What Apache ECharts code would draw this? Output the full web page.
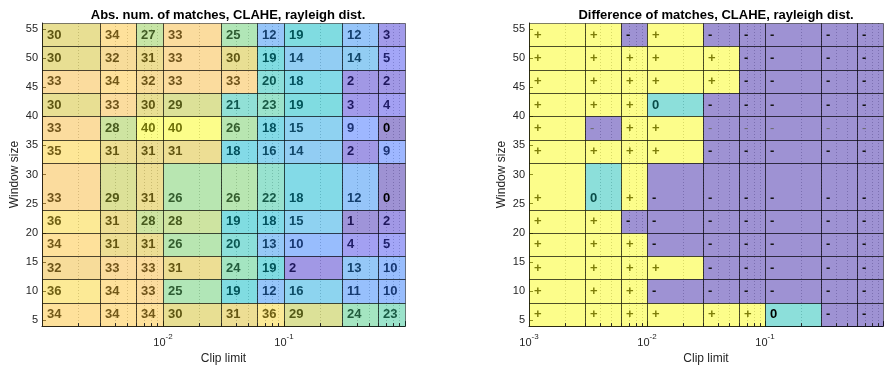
<!DOCTYPE html>
<html>
<head>
<meta charset="utf-8">
<script src="https://cdn.jsdelivr.net/npm/echarts@6/dist/echarts.min.js"></script>
<style>
  html, body { margin: 0; padding: 0; background: #fff; }
  #chart { width: 886px; height: 370px; }
</style>
</head>
<body>
<div id="chart"></div>
<script>
// Cell edges along the clip-limit axis (log scale)
const clipEdges = [0.001, 0.003, 0.006, 0.01, 0.03, 0.06, 0.1, 0.3, 0.6, 1];
// Cell edges along the window-size axis, top row first
const winEdges = [56, 52, 48, 44, 40, 36, 32, 24, 20, 16, 12, 8, 4];
// Window-size position of each row's value label
const winLabelPos = [54, 50, 46, 42, 38, 34, 26, 22, 18, 14, 10, 6];

// Absolute number of matches, one row per window size (top to bottom)
const absMatches = [
  [30, 34, 27, 33, 25, 12, 19, 12, 3],
  [30, 32, 31, 33, 30, 19, 14, 14, 5],
  [33, 34, 32, 33, 33, 20, 18, 2, 2],
  [30, 33, 30, 29, 21, 23, 19, 3, 4],
  [33, 28, 40, 40, 26, 18, 15, 9, 0],
  [35, 31, 31, 31, 18, 16, 14, 2, 9],
  [33, 29, 31, 26, 26, 22, 18, 12, 0],
  [36, 31, 28, 28, 19, 18, 15, 1, 2],
  [34, 31, 31, 26, 20, 13, 10, 4, 5],
  [32, 33, 33, 31, 24, 19, 2, 13, 10],
  [36, 34, 33, 25, 19, 12, 16, 11, 10],
  [34, 34, 34, 30, 31, 36, 29, 24, 23]
];

// Sign of the difference of matches (+1, 0, -1)
const diffSigns = [
  [1, 1, -1, 1, -1, -1, -1, -1, -1],
  [1, 1, 1, 1, 1, -1, -1, -1, -1],
  [1, 1, 1, 1, 1, -1, -1, -1, -1],
  [1, 1, 1, 0, -1, -1, -1, -1, -1],
  [1, -1, 1, 1, -1, -1, -1, -1, -1],
  [1, 1, 1, 1, -1, -1, -1, -1, -1],
  [1, 0, 1, -1, -1, -1, -1, -1, -1],
  [1, 1, -1, -1, -1, -1, -1, -1, -1],
  [1, 1, 1, -1, -1, -1, -1, -1, -1],
  [1, 1, 1, 1, -1, -1, -1, -1, -1],
  [1, 1, 1, -1, -1, -1, -1, -1, -1],
  [1, 1, 1, 1, 1, 1, 0, -1, -1]
];

const winTicks = [5, 10, 15, 20, 25, 30, 35, 40, 45, 50, 55];
const leftClipLabels = [-2, -1];       // exponents labelled on the left panel
const rightClipLabels = [-3, -2, -1];  // exponents labelled on the right panel

const titles = ['Abs. num. of matches, CLAHE, rayleigh dist.', 'Difference of matches, CLAHE, rayleigh dist.'];

// parula colormap, 64 entries
const parula = [
[0.2422,0.1504,0.6603],[0.2504,0.1650,0.7076],[0.2578,0.1818,0.7511],[0.2647,0.1978,0.7952],
[0.2706,0.2147,0.8364],[0.2751,0.2342,0.8710],[0.2783,0.2559,0.8991],[0.2803,0.2782,0.9221],
[0.2813,0.3006,0.9414],[0.2810,0.3228,0.9579],[0.2795,0.3447,0.9717],[0.2760,0.3667,0.9829],
[0.2699,0.3892,0.9906],[0.2602,0.4123,0.9952],[0.2440,0.4358,0.9988],[0.2206,0.4603,0.9973],
[0.1963,0.4847,0.9892],[0.1834,0.5074,0.9798],[0.1786,0.5289,0.9682],[0.1764,0.5499,0.9520],
[0.1687,0.5703,0.9359],[0.1540,0.5902,0.9218],[0.1460,0.6091,0.9079],[0.1380,0.6276,0.8973],
[0.1248,0.6459,0.8883],[0.1113,0.6635,0.8763],[0.0952,0.6798,0.8598],[0.0689,0.6948,0.8394],
[0.0297,0.7082,0.8163],[0.0036,0.7203,0.7917],[0.0067,0.7312,0.7660],[0.0433,0.7411,0.7394],
[0.0964,0.7500,0.7120],[0.1408,0.7584,0.6842],[0.1717,0.7670,0.6554],[0.1938,0.7758,0.6251],
[0.2161,0.7843,0.5923],[0.2470,0.7918,0.5567],[0.2906,0.7973,0.5188],[0.3406,0.8008,0.4789],
[0.3909,0.8029,0.4354],[0.4456,0.8024,0.3909],[0.5044,0.7993,0.3480],[0.5616,0.7942,0.3045],
[0.6174,0.7876,0.2612],[0.6720,0.7793,0.2227],[0.7242,0.7698,0.1910],[0.7738,0.7598,0.1646],
[0.8203,0.7498,0.1535],[0.8634,0.7406,0.1596],[0.9035,0.7330,0.1774],[0.9393,0.7288,0.2100],
[0.9728,0.7298,0.2394],[0.9956,0.7434,0.2371],[0.9970,0.7659,0.2199],[0.9952,0.7893,0.2028],
[0.9892,0.8136,0.1885],[0.9786,0.8386,0.1766],[0.9676,0.8639,0.1643],[0.9610,0.8890,0.1537],
[0.9597,0.9135,0.1423],[0.9628,0.9373,0.1265],[0.9691,0.9606,0.1064],[0.9769,0.9839,0.0805]
];

function cmap(v, lo, hi) {
  let i = Math.floor((v - lo) / (hi - lo) * parula.length);
  i = Math.max(0, Math.min(parula.length - 1, i));
  return parula[i];
}
function rgba(c, a, k) {
  k = k == null ? 1 : k;
  return 'rgba(' + c.map(x => Math.round(x * 255 * k)).join(',') + ',' + a + ')';
}

const FONT = '"Liberation Sans", Arial, Helvetica, sans-serif';
const AX = '#262626';

// Build cell records: [x0, x1, yLow, yHigh, yLabel, value]
function buildCells(values) {
  const out = [];
  values.forEach((row, r) => {
    row.forEach((v, c) => {
      out.push([clipEdges[c], clipEdges[c + 1], winEdges[r + 1], winEdges[r], winLabelPos[r], v]);
    });
  });
  return out;
}

const leftCells = buildCells(absMatches);
const rightCells = buildCells(diffSigns);

function leftStyle(v) {
  const base = cmap(v, 0, 40);
  return {
    fill: rgba(base, 0.5),
    text: String(v),
    color: v === 0 ? '#000' : rgba(base, 1, 0.45),
    weight: 'bold'
  };
}
function rightStyle(v, r, c) {
  const base = cmap(v, -1, 1);
  let text = v > 0 ? '+' : (v < 0 ? '-' : '0');
  let color = v > 0 ? rgba(base, 1, 0.5) : (v < 0 ? '#141414' : rgba(base, 1, 0.4));
  let weight = 'bold';
  if (v === 0 && r === 11) color = '#000';
  if (v < 0 && r === 4) { color = '#6a6a6a'; weight = 'normal'; }
  return { fill: rgba(base, 0.5), text, color, weight };
}

function makeCellRenderer(cells, styler, cols) {
  return function (params, api) {
    const d = cells[params.dataIndex];
    const p0 = api.coord([d[0], d[3]]);
    const p1 = api.coord([d[1], d[2]]);
    const pl = api.coord([d[0], d[4]]);
    const r = Math.floor(params.dataIndex / cols), c = params.dataIndex % cols;
    const s = styler(d[5], r, c);
    const L = Math.round(p0[0]) + 0.5, T = Math.round(p0[1]) + 0.5;
    const R = Math.round(p1[0]) + 0.5, B = Math.round(p1[1]) + 0.5;
    return {
      type: 'group',
      children: [
        {
          type: 'rect',
          shape: { x: L, y: T, width: R - L, height: B - T },
          style: { fill: s.fill, stroke: 'rgba(0,0,0,0.5)', lineWidth: 1 }
        },
        {
          type: 'text',
          x: L + 4.5,
          y: Math.round(pl[1]) + 0.5,
          style: {
            text: s.text,
            fill: s.color,
            font: s.weight + ' 13px ' + FONT,
            align: 'left', verticalAlign: 'middle',
            textAlign: 'left', textVerticalAlign: 'middle'
          }
        }
      ]
    };
  };
}

// Minor log-scale positions for the dotted grid and the small ticks
const minorVals = [];
[0.001, 0.01, 0.1].forEach(d => { for (let k = 2; k <= 9; k++) minorVals.push([+(k * d).toPrecision(3), 4]); });

function minorGridRender(params, api) {
  const v = minorVals[params.dataIndex][0];
  const a = api.coord([v, 56]);
  const b = api.coord([v, 4]);
  const x = Math.round(a[0]) + 0.5;
  return {
    type: 'line',
    shape: { x1: x, y1: a[1], x2: x, y2: b[1] },
    style: { stroke: 'rgba(0,0,0,0.28)', lineWidth: 1, lineDash: [1, 2] }
  };
}
function minorTickRender(params, api) {
  const v = minorVals[params.dataIndex][0];
  const b = api.coord([v, 4]);
  const x = Math.round(b[0]) + 0.5;
  return {
    type: 'line',
    shape: { x1: x, y1: b[1], x2: x, y2: b[1] - 3 },
    style: { stroke: AX, lineWidth: 1 }
  };
}

function xLabelFormatter(allowed) {
  return function (v) {
    const e = Math.round(Math.log10(v));
    if (allowed.indexOf(e) < 0) return '';
    return '{b|10}{s|' + e + '}';
  };
}

function xAxis(idx, allowed) {
  return {
    gridIndex: idx, type: 'log', logBase: 10, min: 0.001, max: 1,
    name: 'Clip limit', nameLocation: 'middle', nameGap: 24,
    nameTextStyle: { color: AX, fontSize: 12, fontFamily: FONT },
    axisLine: { show: true, lineStyle: { color: AX, width: 1 } },
    axisTick: { show: true, inside: true, length: 5, lineStyle: { color: AX } },
    splitLine: { show: false },
    axisLabel: {
      color: AX, margin: 7, fontFamily: FONT,
      formatter: xLabelFormatter(allowed),
      rich: {
        b: { fontSize: 11, fontFamily: FONT, color: AX, lineHeight: 15, verticalAlign: 'bottom' },
        s: { fontSize: 8, fontFamily: FONT, color: AX, lineHeight: 9, verticalAlign: 'top' }
      }
    }
  };
}
function yAxis(idx) {
  return {
    gridIndex: idx, type: 'value', min: 4, max: 56,
    name: 'Window size', nameLocation: 'middle', nameGap: 21,
    nameTextStyle: { color: AX, fontSize: 12, fontFamily: FONT },
    axisLine: { show: true, lineStyle: { color: AX, width: 1 } },
    axisTick: { show: true, inside: true, length: 4, customValues: winTicks, lineStyle: { color: AX } },
    axisLabel: { color: AX, fontSize: 11, fontFamily: FONT, margin: 4, customValues: winTicks },
    splitLine: { show: false }
  };
}

const chart = echarts.init(document.getElementById('chart'), null, { renderer: 'canvas' });
chart.setOption({
  animation: false,
  backgroundColor: '#fff',
  title: [
    { text: titles[0], left: 223, top: 4, textAlign: 'center',
      textStyle: { fontSize: 13, fontWeight: 'bold', color: '#000', fontFamily: FONT } },
    { text: titles[1], left: 711, top: 4, textAlign: 'center',
      textStyle: { fontSize: 13, fontWeight: 'bold', color: '#000', fontFamily: FONT } }
  ],
  grid: [
    { left: 42, top: 23, width: 363, height: 305 },
    { left: 529, top: 23, width: 364, height: 305 }
  ],
  xAxis: [xAxis(0, leftClipLabels), xAxis(1, rightClipLabels)],
  yAxis: [yAxis(0), yAxis(1)],
  series: [
    { type: 'custom', xAxisIndex: 0, yAxisIndex: 0, z: 1, silent: true,
      data: minorVals, encode: { x: 0, y: 1 }, renderItem: minorGridRender },
    { type: 'custom', xAxisIndex: 1, yAxisIndex: 1, z: 1, silent: true,
      data: minorVals, encode: { x: 0, y: 1 }, renderItem: minorGridRender },
    { type: 'custom', xAxisIndex: 0, yAxisIndex: 0, z: 2, silent: true,
      data: leftCells, encode: { x: [0, 1], y: [2, 3, 4] },
      renderItem: makeCellRenderer(leftCells, leftStyle, 9) },
    { type: 'custom', xAxisIndex: 1, yAxisIndex: 1, z: 2, silent: true,
      data: rightCells, encode: { x: [0, 1], y: [2, 3, 4] },
      renderItem: makeCellRenderer(rightCells, rightStyle, 9) },
    { type: 'custom', xAxisIndex: 0, yAxisIndex: 0, z: 3, silent: true,
      data: minorVals, encode: { x: 0, y: 1 }, renderItem: minorTickRender },
    { type: 'custom', xAxisIndex: 1, yAxisIndex: 1, z: 3, silent: true,
      data: minorVals, encode: { x: 0, y: 1 }, renderItem: minorTickRender }
  ]
});
</script>
</body>
</html>
